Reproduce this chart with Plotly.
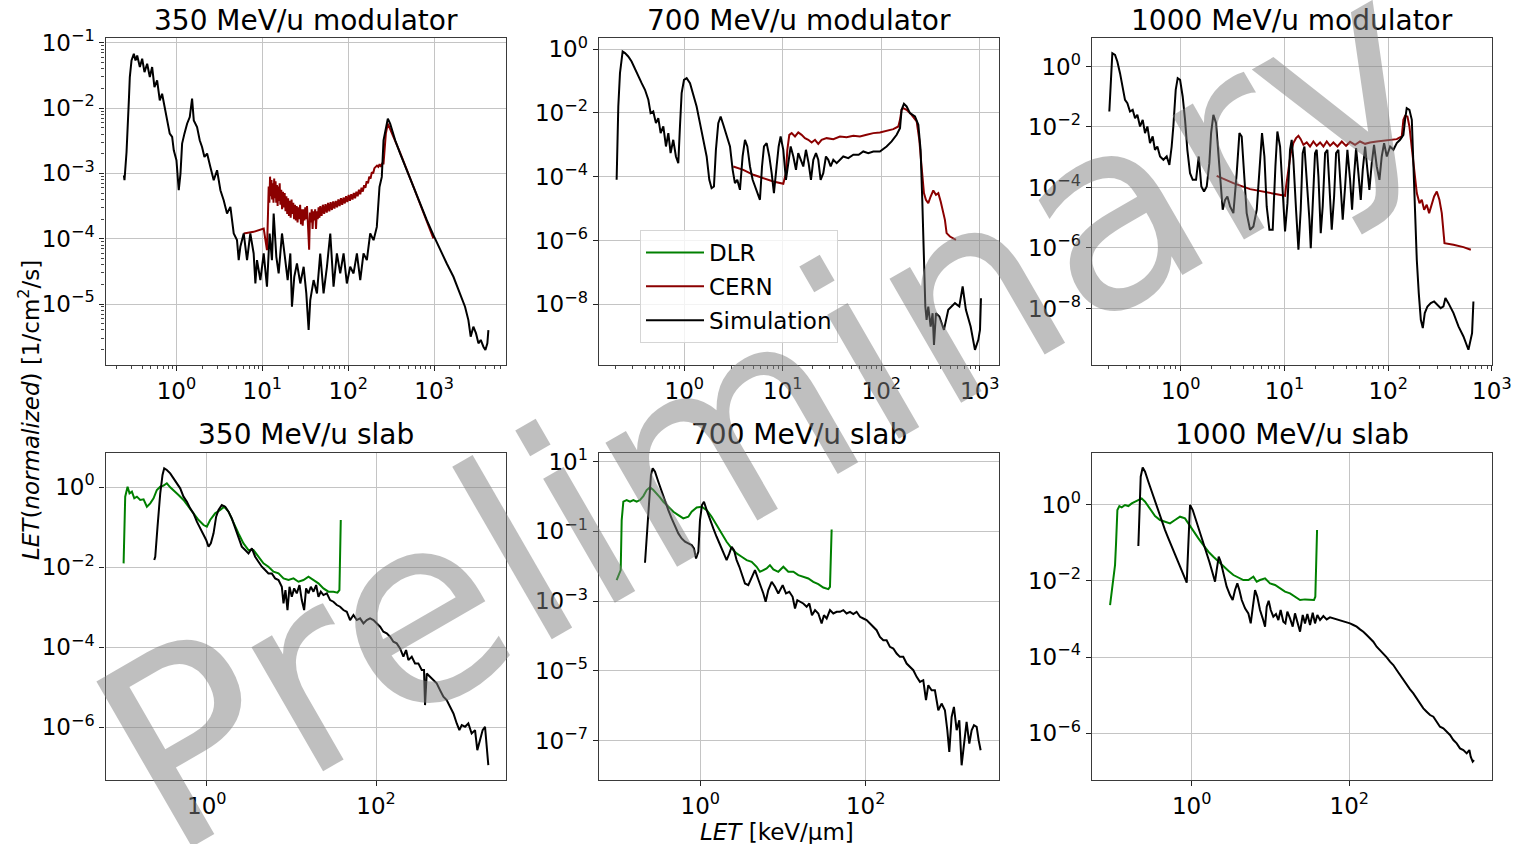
import numpy as np
import plotly.graph_objects as go

W, H = 1517, 844
FONT = "DejaVu Sans"

# ---------------- data: (log10 LET [keV/um], log10 fluence) ----------------
tl_sim = [(-0.612,-3.029),(-0.605,-3.105),(-0.581,-2.672),(-0.574,-2.391),(-0.554,-1.882),(-0.543,-1.525),(-0.523,-1.270),(-0.496,-1.168),(-0.477,-1.270),(-0.457,-1.194),(-0.426,-1.372),(-0.399,-1.245),(-0.372,-1.449),(-0.341,-1.321),(-0.310,-1.525),(-0.283,-1.372),(-0.256,-1.678),(-0.225,-1.576),(-0.194,-1.882),(-0.167,-1.780),(-0.140,-1.984),(-0.109,-2.188),(-0.078,-2.391),(-0.050,-2.442),(-0.031,-2.646),(0.0,-2.799),(0.027,-3.258),(0.047,-3.003),(0.066,-2.544),(0.093,-2.391),(0.124,-2.239),(0.155,-2.137),(0.182,-1.856),(0.202,-2.188),(0.240,-2.290),(0.271,-2.493),(0.298,-2.595),(0.326,-2.748),(0.357,-2.697),(0.395,-2.901),(0.434,-3.105),(0.473,-2.952),(0.512,-3.258),(0.550,-3.411),(0.589,-3.615),(0.628,-3.513),(0.667,-3.920),(0.705,-4.022),(0.725,-4.328),(0.744,-4.124),(0.783,-3.920),(0.822,-4.328),(0.860,-3.920),(0.899,-4.226),(0.919,-4.685),(0.938,-4.328),(0.977,-4.634),(1.016,-4.226),(1.054,-4.736),(1.085,-3.920),(1.112,-4.328),(1.132,-3.615),(1.163,-4.277),(1.190,-4.532),(1.229,-3.920),(1.267,-4.328),(1.295,-4.634),(1.326,-4.226),(1.345,-5.042),(1.372,-4.583),(1.403,-4.379),(1.442,-4.685),(1.481,-4.430),(1.512,-4.838),(1.539,-5.399),(1.558,-4.940),(1.597,-4.634),(1.636,-4.838),(1.674,-4.226),(1.713,-4.838),(1.752,-4.430),(1.791,-3.920),(1.829,-4.736),(1.868,-4.226),(1.907,-4.532),(1.946,-4.226),(1.984,-4.685),(2.023,-4.430),(2.062,-4.532),(2.101,-4.226),(2.140,-4.634),(2.178,-4.226),(2.217,-4.328),(2.256,-3.920),(2.295,-4.022),(2.333,-3.819),(2.364,-3.207),(2.391,-3.054),(2.411,-2.493),(2.442,-2.290),(2.461,-2.162),(2.488,-2.239),(2.547,-2.493),(2.605,-2.697),(2.682,-2.952),(2.760,-3.207),(2.837,-3.462),(2.915,-3.717),(2.992,-3.946),(3.070,-4.175),(3.147,-4.379),(3.225,-4.583),(3.302,-4.838),(3.360,-5.042),(3.399,-5.246),(3.426,-5.501),(3.457,-5.348),(3.488,-5.450),(3.516,-5.602),(3.543,-5.551),(3.574,-5.654),(3.597,-5.704),(3.620,-5.602),(3.632,-5.399)]
tl_cern = [(0.783,-3.920),(0.899,-3.895),(1.016,-3.844),(1.054,-4.175),(1.066,-3.615),(1.074,-3.20),(1.082,-3.45),(1.090,-3.05),(1.098,-3.35),(1.106,-3.10),(1.114,-3.40),(1.122,-3.15),(1.130,-3.45),(1.138,-3.08),(1.146,-3.38),(1.154,-3.12),(1.162,-3.45),(1.170,-3.18),(1.178,-3.50),(1.186,-3.20),(1.194,-3.42),(1.202,-3.15),(1.210,-3.48),(1.220,-3.25),(1.230,-3.55),(1.240,-3.28),(1.250,-3.52),(1.260,-3.30),(1.270,-3.58),(1.280,-3.35),(1.290,-3.62),(1.300,-3.38),(1.310,-3.65),(1.320,-3.42),(1.330,-3.68),(1.340,-3.40),(1.350,-3.62),(1.360,-3.45),(1.370,-3.70),(1.380,-3.48),(1.390,-3.72),(1.400,-3.50),(1.410,-3.75),(1.420,-3.52),(1.430,-3.70),(1.440,-3.48),(1.450,-3.78),(1.460,-3.55),(1.470,-3.80),(1.480,-3.55),(1.490,-3.72),(1.500,-3.52),(1.510,-3.70),(1.520,-3.50),(1.530,-3.75),(1.545,-4.17),(1.555,-3.60),(1.565,-3.75),(1.575,-3.55),(1.585,-3.85),(1.595,-3.58),(1.605,-3.72),(1.615,-3.55),(1.625,-3.85),(1.635,-3.58),(1.645,-3.70),(1.655,-3.52),(1.665,-3.68),(1.675,-3.50),(1.690,-3.65),(1.705,-3.48),(1.720,-3.62),(1.735,-3.47),(1.750,-3.60),(1.765,-3.45),(1.780,-3.58),(1.795,-3.44),(1.810,-3.56),(1.825,-3.43),(1.840,-3.54),(1.855,-3.42),(1.870,-3.52),(1.885,-3.40),(1.900,-3.50),(1.915,-3.38),(1.930,-3.48),(1.945,-3.37),(1.960,-3.46),(1.975,-3.35),(1.990,-3.44),(2.005,-3.33),(2.020,-3.42),(2.035,-3.32),(2.050,-3.40),(2.065,-3.30),(2.080,-3.38),(2.095,-3.28),(2.110,-3.35),(2.125,-3.25),(2.140,-3.32),(2.155,-3.22),(2.170,-3.28),(2.185,-3.18),(2.200,-3.22),(2.215,-3.12),(2.230,-3.15),(2.245,-3.05),(2.260,-3.08),(2.275,-2.98),(2.290,-3.00),(2.305,-2.92),(2.320,-2.90),(2.335,-2.88),(2.350,-2.90),(2.365,-2.86),(2.380,-2.90),(2.395,-2.85),(2.411,-2.850),(2.438,-2.391),(2.461,-2.239),(2.527,-2.442),(2.605,-2.687),(2.760,-3.207),(2.915,-3.727),(2.992,-3.997)]

tm_sim = [(-0.687,-4.096),(-0.670,-1.797),(-0.653,-0.752),(-0.626,-0.073),(-0.602,-0.125),(-0.569,-0.230),(-0.535,-0.387),(-0.501,-0.596),(-0.467,-0.805),(-0.433,-1.066),(-0.399,-1.275),(-0.365,-1.588),(-0.342,-2.006),(-0.315,-1.954),(-0.288,-2.320),(-0.264,-2.163),(-0.240,-2.633),(-0.213,-2.424),(-0.186,-3.051),(-0.162,-2.633),(-0.139,-3.260),(-0.112,-2.842),(-0.085,-3.365),(-0.061,-3.574),(-0.044,-2.424),(-0.027,-1.379),(-0.003,-0.961),(0.024,-0.909),(0.058,-1.066),(0.091,-1.432),(0.125,-1.797),(0.159,-2.320),(0.193,-2.842),(0.227,-3.365),(0.254,-4.096),(0.277,-4.357),(0.301,-4.305),(0.321,-3.156),(0.345,-2.320),(0.369,-2.111),(0.396,-2.372),(0.430,-2.738),(0.464,-3.051),(0.491,-3.783),(0.514,-4.201),(0.538,-4.096),(0.565,-4.410),(0.592,-3.365),(0.616,-2.842),(0.640,-3.051),(0.667,-3.678),(0.694,-4.096),(0.717,-4.305),(0.741,-4.514),(0.768,-4.723),(0.789,-3.678),(0.809,-3.051),(0.836,-2.947),(0.863,-3.365),(0.887,-3.887),(0.910,-4.514),(0.937,-3.678),(0.958,-3.051),(0.978,-2.738),(1.005,-3.156),(1.032,-4.096),(1.056,-3.574),(1.080,-3.051),(1.107,-3.365),(1.134,-3.783),(1.157,-3.260),(1.181,-3.469),(1.208,-3.678),(1.235,-3.156),(1.262,-3.574),(1.286,-4.096),(1.310,-3.469),(1.337,-3.260),(1.360,-3.469),(1.384,-4.096),(1.411,-3.887),(1.438,-3.365),(1.462,-3.469),(1.486,-3.678),(1.513,-3.469),(1.547,-3.574),(1.580,-3.469),(1.614,-3.365),(1.665,-3.417),(1.716,-3.312),(1.770,-3.312),(1.817,-3.208),(1.868,-3.260),(1.919,-3.208),(1.986,-3.208),(2.054,-3.051),(2.105,-2.894),(2.156,-2.686),(2.190,-2.476),(2.206,-1.902),(2.230,-1.714),(2.257,-1.797),(2.291,-2.006),(2.342,-2.111),(2.376,-2.372),(2.399,-3.156),(2.416,-4.723),(2.433,-6.604),(2.447,-8.067),(2.460,-8.485),(2.477,-8.067),(2.501,-8.694),(2.521,-8.276),(2.535,-9.269),(2.555,-8.276),(2.589,-8.380),(2.636,-8.798),(2.680,-8.171),(2.748,-7.962),(2.792,-8.067),(2.826,-7.440),(2.859,-8.171),(2.907,-8.694),(2.951,-9.425),(2.985,-9.112),(3.002,-8.798),(3.012,-7.806)]
tm_cern = [(0.497,-3.678),(0.599,-3.783),(0.701,-3.939),(0.802,-4.044),(0.904,-4.148),(1.005,-4.222),(1.032,-3.887),(1.046,-3.156),(1.066,-2.686),(1.090,-2.633),(1.124,-2.738),(1.157,-2.612),(1.191,-2.686),(1.225,-2.790),(1.259,-2.842),(1.293,-2.926),(1.327,-2.842),(1.360,-2.968),(1.394,-2.842),(1.445,-2.790),(1.513,-2.821),(1.580,-2.738),(1.648,-2.759),(1.716,-2.717),(1.783,-2.738),(1.851,-2.686),(1.919,-2.633),(1.986,-2.612),(2.054,-2.560),(2.122,-2.508),(2.173,-2.424),(2.190,-2.215),(2.206,-1.902),(2.223,-1.850),(2.257,-1.902),(2.308,-2.058),(2.359,-2.267),(2.386,-2.842),(2.409,-3.678),(2.433,-4.514),(2.453,-4.723),(2.477,-4.828),(2.501,-4.619),(2.528,-4.430),(2.555,-4.566),(2.579,-4.514),(2.603,-4.775),(2.623,-5.036),(2.646,-5.350),(2.663,-5.768),(2.697,-5.873),(2.758,-5.977)]

tr_sim = [(-0.688,-1.488),(-0.675,-0.551),(-0.659,0.441),(-0.633,0.386),(-0.611,0.165),(-0.585,-0.220),(-0.559,-0.661),(-0.537,-1.102),(-0.514,-1.212),(-0.489,-1.488),(-0.463,-1.433),(-0.440,-1.708),(-0.418,-1.598),(-0.392,-1.983),(-0.366,-1.763),(-0.344,-2.204),(-0.321,-1.983),(-0.296,-2.534),(-0.270,-2.314),(-0.248,-2.755),(-0.225,-2.645),(-0.199,-2.975),(-0.167,-3.085),(-0.135,-2.975),(-0.109,-3.251),(-0.087,-2.645),(-0.071,-1.983),(-0.048,-0.771),(-0.029,-0.386),(-0.006,-0.441),(0.019,-0.992),(0.042,-1.763),(0.064,-2.755),(0.090,-3.526),(0.116,-3.747),(0.148,-3.747),(0.174,-2.975),(0.199,-3.967),(0.225,-4.132),(0.251,-3.967),(0.276,-3.196),(0.293,-2.204),(0.315,-1.598),(0.341,-1.873),(0.363,-2.865),(0.386,-3.967),(0.405,-4.738),(0.428,-4.408),(0.450,-4.298),(0.476,-4.628),(0.508,-4.848),(0.540,-3.526),(0.566,-2.204),(0.588,-2.314),(0.611,-3.526),(0.636,-4.848),(0.669,-5.399),(0.701,-5.289),(0.733,-4.738),(0.765,-3.085),(0.784,-2.204),(0.807,-2.975),(0.829,-4.628),(0.855,-5.399),(0.887,-5.399),(0.913,-3.304),(0.932,-2.149),(0.958,-2.645),(0.984,-4.187),(1.006,-5.455),(1.029,-4.518),(1.054,-2.755),(1.070,-2.424),(1.086,-3.085),(1.112,-4.738),(1.135,-6.061),(1.157,-4.738),(1.176,-2.865),(1.193,-2.645),(1.215,-3.636),(1.241,-5.069),(1.254,-6.006),(1.273,-4.628),(1.295,-2.865),(1.311,-2.755),(1.328,-3.636),(1.350,-5.510),(1.369,-4.628),(1.392,-2.865),(1.414,-2.755),(1.434,-3.967),(1.456,-5.399),(1.479,-4.298),(1.498,-2.865),(1.520,-2.755),(1.543,-3.967),(1.562,-5.069),(1.585,-3.967),(1.607,-2.755),(1.633,-3.747),(1.652,-4.738),(1.671,-3.636),(1.691,-2.700),(1.713,-3.526),(1.736,-4.408),(1.755,-3.416),(1.778,-2.645),(1.800,-3.416),(1.819,-4.077),(1.842,-3.196),(1.864,-2.590),(1.890,-3.306),(1.916,-3.747),(1.938,-2.975),(1.961,-2.534),(1.987,-2.975),(2.019,-2.645),(2.051,-2.755),(2.083,-2.534),(2.115,-2.424),(2.147,-2.259),(2.163,-1.763),(2.179,-1.377),(2.205,-1.433),(2.228,-1.763),(2.244,-3.306),(2.260,-4.959),(2.276,-6.391),(2.295,-7.493),(2.315,-8.375),(2.334,-8.650),(2.353,-8.154),(2.379,-7.934),(2.411,-7.824),(2.443,-7.769),(2.475,-7.879),(2.507,-7.989),(2.533,-7.934),(2.552,-7.658),(2.581,-7.824),(2.630,-8.154),(2.678,-8.595),(2.726,-8.926),(2.774,-9.366),(2.790,-9.091),(2.809,-8.815),(2.822,-7.769)]
tr_cern = [(0.347,-3.614),(0.508,-3.857),(0.669,-4.055),(0.829,-4.165),(0.958,-4.242),(1.006,-4.275),(1.016,-3.967),(1.038,-3.416),(1.061,-2.865),(1.086,-2.534),(1.112,-2.369),(1.135,-2.292),(1.157,-2.402),(1.183,-2.590),(1.215,-2.512),(1.247,-2.645),(1.279,-2.479),(1.311,-2.623),(1.344,-2.512),(1.376,-2.645),(1.408,-2.479),(1.440,-2.623),(1.472,-2.512),(1.511,-2.645),(1.553,-2.479),(1.594,-2.623),(1.633,-2.490),(1.681,-2.590),(1.729,-2.479),(1.778,-2.557),(1.826,-2.512),(1.890,-2.479),(1.954,-2.446),(2.019,-2.424),(2.083,-2.402),(2.131,-2.314),(2.147,-1.763),(2.163,-1.631),(2.186,-1.653),(2.205,-1.983),(2.228,-2.755),(2.250,-3.526),(2.276,-4.187),(2.302,-4.518),(2.324,-4.408),(2.347,-4.738),(2.372,-4.573),(2.395,-4.848),(2.421,-4.518),(2.443,-4.298),(2.469,-4.132),(2.494,-4.408),(2.517,-4.848),(2.533,-5.510),(2.543,-5.840),(2.630,-5.895),(2.726,-5.972),(2.797,-6.061)]

bl_dlr = [(-0.984,-1.906),(-0.965,-0.241),(-0.937,0.008),(-0.914,-0.158),(-0.886,-0.117),(-0.858,-0.283),(-0.827,-0.241),(-0.788,-0.325),(-0.748,-0.308),(-0.709,-0.491),(-0.669,-0.408),(-0.630,-0.283),(-0.591,-0.075),(-0.551,0.008),(-0.512,0.033),(-0.473,0.092),(-0.433,-0.008),(-0.394,-0.075),(-0.335,-0.200),(-0.276,-0.325),(-0.217,-0.491),(-0.158,-0.658),(-0.098,-0.824),(-0.039,-0.949),(0.0,-0.990),(0.039,-0.824),(0.098,-0.658),(0.158,-0.574),(0.205,-0.491),(0.256,-0.616),(0.315,-0.907),(0.374,-1.157),(0.433,-1.407),(0.492,-1.573),(0.551,-1.573),(0.610,-1.740),(0.669,-1.906),(0.728,-1.989),(0.788,-2.114),(0.847,-2.156),(0.906,-2.281),(0.965,-2.322),(1.024,-2.281),(1.083,-2.364),(1.142,-2.322),(1.201,-2.239),(1.260,-2.322),(1.319,-2.405),(1.378,-2.530),(1.437,-2.613),(1.496,-2.613),(1.544,-2.638),(1.567,-2.572),(1.575,-1.573),(1.583,-0.824)]
bl_sim = [(-0.622,-1.823),(-0.610,-1.740),(-0.583,-0.990),(-0.551,-0.158),(-0.524,0.300),(-0.504,0.466),(-0.473,0.424),(-0.433,0.341),(-0.394,0.216),(-0.354,0.092),(-0.315,-0.033),(-0.276,-0.241),(-0.236,-0.366),(-0.197,-0.533),(-0.158,-0.658),(-0.118,-0.866),(-0.079,-1.032),(-0.039,-1.199),(-0.008,-1.323),(0.020,-1.490),(0.047,-1.407),(0.079,-1.157),(0.110,-0.741),(0.138,-0.574),(0.177,-0.449),(0.217,-0.491),(0.256,-0.616),(0.295,-0.782),(0.335,-1.032),(0.374,-1.282),(0.413,-1.490),(0.453,-1.573),(0.492,-1.656),(0.532,-1.531),(0.571,-1.740),(0.610,-1.864),(0.650,-1.989),(0.689,-2.072),(0.728,-2.156),(0.768,-2.156),(0.807,-2.281),(0.847,-2.322),(0.886,-2.489),(0.906,-2.905),(0.929,-2.572),(0.953,-3.071),(0.977,-2.489),(1.004,-2.738),(1.032,-2.530),(1.063,-2.655),(1.095,-2.447),(1.122,-2.822),(1.150,-3.071),(1.173,-2.530),(1.201,-2.655),(1.229,-2.489),(1.260,-2.613),(1.292,-2.447),(1.319,-2.738),(1.347,-2.613),(1.378,-2.697),(1.418,-2.655),(1.457,-2.822),(1.496,-2.863),(1.536,-2.946),(1.575,-2.988),(1.614,-3.071),(1.654,-3.113),(1.693,-3.321),(1.733,-3.196),(1.772,-3.321),(1.811,-3.279),(1.851,-3.404),(1.890,-3.321),(1.929,-3.279),(1.969,-3.321),(2.008,-3.404),(2.048,-3.487),(2.087,-3.612),(2.126,-3.654),(2.166,-3.737),(2.205,-3.862),(2.244,-3.903),(2.284,-4.028),(2.323,-4.236),(2.355,-4.070),(2.382,-4.320),(2.422,-4.236),(2.461,-4.403),(2.500,-4.403),(2.540,-4.569),(2.567,-4.569),(2.579,-5.443),(2.599,-4.653),(2.638,-4.736),(2.678,-4.819),(2.717,-4.902),(2.756,-5.069),(2.796,-5.235),(2.835,-5.319),(2.875,-5.485),(2.915,-5.651),(2.954,-5.901),(2.985,-6.067),(3.013,-5.943),(3.052,-5.984),(3.091,-5.901),(3.130,-6.151),(3.170,-6.067),(3.197,-6.567),(3.229,-6.317),(3.260,-6.067),(3.288,-5.984),(3.308,-6.484),(3.327,-6.941)]

bm_dlr = [(-1.012,-2.397),(-0.983,-2.206),(-0.963,-2.110),(-0.951,-0.675),(-0.931,-0.148),(-0.891,-0.100),(-0.850,-0.148),(-0.810,-0.100),(-0.770,-0.148),(-0.730,-0.100),(-0.689,0.014),(-0.649,0.187),(-0.609,0.263),(-0.568,0.187),(-0.528,0.091),(-0.488,-0.024),(-0.447,-0.148),(-0.407,-0.244),(-0.367,-0.340),(-0.326,-0.435),(-0.266,-0.531),(-0.206,-0.627),(-0.145,-0.579),(-0.105,-0.435),(-0.044,-0.311),(0.016,-0.292),(0.077,-0.388),(0.137,-0.579),(0.197,-0.818),(0.258,-1.057),(0.318,-1.297),(0.379,-1.488),(0.439,-1.632),(0.500,-1.727),(0.560,-1.823),(0.621,-1.871),(0.681,-2.014),(0.721,-2.158),(0.762,-2.110),(0.802,-2.062),(0.842,-1.967),(0.883,-2.091),(0.943,-2.158),(1.004,-2.014),(1.064,-2.158),(1.125,-2.158),(1.185,-2.254),(1.245,-2.301),(1.306,-2.349),(1.366,-2.445),(1.427,-2.512),(1.487,-2.608),(1.548,-2.656),(1.568,-2.589),(1.576,-1.727),(1.588,-0.943)]
bm_sim = [(-0.669,-1.900),(-0.649,-1.153),(-0.621,-0.100),(-0.597,0.617),(-0.576,0.809),(-0.548,0.713),(-0.508,0.426),(-0.468,0.139),(-0.427,-0.148),(-0.387,-0.388),(-0.347,-0.627),(-0.306,-0.866),(-0.266,-1.057),(-0.226,-1.201),(-0.185,-1.297),(-0.145,-1.344),(-0.105,-1.392),(-0.077,-1.488),(-0.052,-1.775),(-0.024,-1.584),(-0.004,-0.675),(0.020,-0.244),(0.044,-0.148),(0.077,-0.388),(0.117,-0.675),(0.157,-0.914),(0.197,-1.153),(0.238,-1.392),(0.278,-1.632),(0.318,-1.823),(0.351,-1.632),(0.379,-1.440),(0.407,-1.536),(0.439,-1.823),(0.472,-2.014),(0.500,-2.206),(0.540,-2.493),(0.580,-2.541),(0.621,-2.301),(0.661,-2.110),(0.689,-2.301),(0.721,-2.493),(0.762,-2.780),(0.790,-3.019),(0.822,-2.684),(0.863,-2.445),(0.903,-2.589),(0.943,-2.780),(0.996,-2.541),(1.036,-2.780),(1.076,-2.732),(1.116,-2.876),(1.145,-3.211),(1.173,-2.971),(1.205,-3.019),(1.245,-3.067),(1.286,-3.163),(1.318,-3.067),(1.350,-3.402),(1.387,-3.258),(1.427,-3.354),(1.467,-3.641),(1.495,-3.402),(1.528,-3.498),(1.568,-3.258),(1.608,-3.354),(1.649,-3.306),(1.689,-3.306),(1.729,-3.258),(1.769,-3.354),(1.810,-3.306),(1.850,-3.373),(1.890,-3.306),(1.931,-3.450),(1.971,-3.498),(2.011,-3.545),(2.052,-3.641),(2.092,-3.737),(2.132,-3.833),(2.172,-4.024),(2.213,-4.120),(2.253,-4.120),(2.293,-4.311),(2.334,-4.359),(2.374,-4.502),(2.414,-4.598),(2.454,-4.598),(2.495,-4.790),(2.535,-4.885),(2.576,-4.981),(2.616,-5.172),(2.656,-5.316),(2.696,-5.268),(2.729,-5.842),(2.757,-5.411),(2.797,-5.555),(2.837,-5.555),(2.878,-6.129),(2.918,-5.938),(2.958,-6.129),(2.987,-6.703),(3.011,-7.325),(3.039,-6.321),(3.067,-6.033),(3.100,-6.703),(3.132,-6.416),(3.160,-7.708),(3.192,-7.086),(3.220,-6.464),(3.253,-7.086),(3.281,-6.703),(3.309,-6.560),(3.342,-6.608),(3.366,-6.990),(3.390,-7.278)]

br_dlr = [(-1.036,-2.633),(-1.015,-2.240),(-0.994,-1.977),(-0.973,-1.584),(-0.960,-1.015),(-0.943,-0.140),(-0.918,-0.035),(-0.888,-0.070),(-0.846,-0.009),(-0.804,-0.035),(-0.761,0.035),(-0.719,0.079),(-0.677,0.140),(-0.635,0.166),(-0.592,0.079),(-0.550,-0.052),(-0.508,-0.184),(-0.465,-0.297),(-0.402,-0.402),(-0.338,-0.446),(-0.275,-0.490),(-0.212,-0.402),(-0.148,-0.315),(-0.085,-0.359),(-0.030,-0.534),(0.021,-0.709),(0.085,-0.884),(0.148,-1.059),(0.212,-1.234),(0.275,-1.365),(0.338,-1.496),(0.402,-1.627),(0.465,-1.732),(0.529,-1.846),(0.592,-1.916),(0.656,-1.977),(0.719,-1.977),(0.783,-1.890),(0.825,-2.021),(0.867,-1.977),(0.931,-1.934),(0.994,-2.065),(1.058,-2.108),(1.121,-2.196),(1.184,-2.283),(1.248,-2.327),(1.311,-2.415),(1.375,-2.502),(1.438,-2.485),(1.502,-2.485),(1.552,-2.502),(1.569,-2.415),(1.578,-1.540),(1.591,-0.665)]
br_sim = [(-0.677,-1.085),(-0.664,-0.140),(-0.647,0.735),(-0.622,0.980),(-0.592,0.866),(-0.550,0.604),(-0.508,0.341),(-0.465,0.079),(-0.423,-0.184),(-0.381,-0.446),(-0.338,-0.665),(-0.296,-0.884),(-0.254,-1.102),(-0.212,-1.321),(-0.169,-1.540),(-0.127,-1.715),(-0.085,-1.934),(-0.063,-2.047),(-0.042,-1.015),(-0.021,-0.009),(0.013,-0.140),(0.055,-0.402),(0.097,-0.709),(0.140,-0.971),(0.182,-1.234),(0.224,-1.496),(0.266,-1.802),(0.296,-2.021),(0.317,-1.715),(0.343,-1.365),(0.368,-1.496),(0.402,-1.802),(0.444,-2.152),(0.486,-2.371),(0.520,-2.502),(0.550,-2.240),(0.579,-2.065),(0.605,-2.240),(0.635,-2.502),(0.677,-2.721),(0.719,-2.852),(0.749,-3.115),(0.774,-2.721),(0.804,-2.240),(0.833,-2.415),(0.867,-2.765),(0.901,-2.983),(0.931,-3.202),(0.952,-2.677),(0.977,-2.520),(1.003,-2.765),(1.036,-2.940),(1.070,-2.870),(1.100,-3.027),(1.129,-2.765),(1.163,-3.071),(1.189,-3.115),(1.214,-2.808),(1.248,-2.983),(1.282,-3.202),(1.311,-2.852),(1.345,-3.115),(1.375,-3.333),(1.409,-2.896),(1.438,-3.115),(1.468,-2.870),(1.502,-3.158),(1.536,-2.835),(1.565,-3.115),(1.595,-2.896),(1.629,-3.027),(1.671,-2.922),(1.713,-3.010),(1.755,-2.957),(1.798,-2.983),(1.840,-3.010),(1.882,-3.027),(1.925,-3.071),(1.967,-3.097),(2.009,-3.115),(2.052,-3.158),(2.094,-3.202),(2.136,-3.272),(2.178,-3.333),(2.221,-3.421),(2.263,-3.508),(2.305,-3.596),(2.347,-3.727),(2.390,-3.815),(2.432,-3.902),(2.475,-4.007),(2.517,-4.121),(2.559,-4.208),(2.601,-4.339),(2.644,-4.471),(2.686,-4.602),(2.728,-4.733),(2.771,-4.847),(2.813,-4.952),(2.855,-5.083),(2.898,-5.214),(2.940,-5.346),(2.982,-5.433),(3.025,-5.521),(3.067,-5.564),(3.109,-5.696),(3.151,-5.827),(3.194,-5.871),(3.236,-5.958),(3.278,-6.045),(3.321,-6.177),(3.363,-6.264),(3.405,-6.396),(3.448,-6.439),(3.490,-6.527),(3.524,-6.439),(3.541,-6.614),(3.566,-6.745),(3.583,-6.702)]

titles = ["350 MeV/u modulator", "700 MeV/u modulator", "1000 MeV/u modulator",
          "350 MeV/u slab", "700 MeV/u slab", "1000 MeV/u slab"]
x_tick_exp = [[0, 1, 2, 3], [0, 1, 2, 3], [0, 1, 2, 3], [0, 2], [0, 2], [0, 2]]
y_tick_exp = [[-1, -2, -3, -4, -5], [0, -2, -4, -6, -8], [0, -2, -4, -6, -8],
              [0, -2, -4, -6], [1, -1, -3, -5, -7], [0, -2, -4, -6]]
series = [
    [("CERN", tl_cern), ("Simulation", tl_sim)],
    [("CERN", tm_cern), ("Simulation", tm_sim)],
    [("CERN", tr_cern), ("Simulation", tr_sim)],
    [("DLR", bl_dlr), ("Simulation", bl_sim)],
    [("DLR", bm_dlr), ("Simulation", bm_sim)],
    [("DLR", br_dlr), ("Simulation", br_sim)],
]
colors = {"DLR": "#008000", "CERN": "#8b0000", "Simulation": "#000000"}
rank = {"DLR": 1, "CERN": 2, "Simulation": 3}

# ---------------- layout geometry (pixels) ----------------
col_px = [(105.5, 506.0), (598.7, 999.0), (1091.7, 1492.3)]
row_px = [(37.5, 365.0), (452.7, 780.3)]
x_ranges = [[-0.826, 3.837], [-0.869, 3.195], [-0.858, 3.004],
            [-1.198, 3.536], [-1.229, 3.612], [-1.269, 3.815]]
y_ranges = [[-5.934, -0.919], [-9.9, 0.364], [-9.87, 0.959],
            [-7.32, 0.856], [-8.139, 1.258], [-7.234, 1.365]]


def sup(e):
    return "10<sup>" + ("\u2212" if e < 0 else "") + str(abs(e)) + "</sup>"


minor_x = [m * 10.0 ** e for e in range(-2, 5) for m in range(2, 10)]
minor_y_tl = [m * 10.0 ** e for e in range(-7, 0) for m in range(2, 10)]

fig = go.Figure()
shown = set()
layout = dict(
    width=W, height=H, margin=dict(l=0, r=0, t=0, b=0, pad=0, autoexpand=False),
    paper_bgcolor="white", plot_bgcolor="white",
    font=dict(family=FONT, size=23, color="black"),
    showlegend=True,
)
annotations = []

for i in range(6):
    r, c = divmod(i, 3)
    ax = "" if i == 0 else str(i + 1)
    for name, pts in series[i]:
        lx = np.array([p[0] for p in pts])
        ly = np.array([p[1] for p in pts])
        show = name not in shown
        shown.add(name)
        fig.add_trace(go.Scatter(
            x=10 ** lx, y=10 ** ly, mode="lines", name=name,
            line=dict(color=colors[name], width=2),
            xaxis="x" + ax, yaxis="y" + ax, showlegend=show,
            legendrank=rank[name], legendgroup=name,
        ))
    x0, x1 = col_px[c]
    y0, y1 = row_px[r]
    axis_common = dict(
        type="log", showline=True, mirror=True, linecolor="#3a3a3a", linewidth=1.3,
        showgrid=True, gridcolor="#c4c4c4", gridwidth=1, zeroline=False,
        ticks="outside", ticklen=5, tickwidth=1, tickcolor="#222", automargin=False,
        tickfont=dict(family=FONT, size=23, color="black"), tickmode="array",
    )
    xa = dict(axis_common, domain=[x0 / W, x1 / W], range=x_ranges[i],
              anchor="y" + ax, tickvals=[10.0 ** e for e in x_tick_exp[i]],
              ticktext=[sup(e) for e in x_tick_exp[i]])
    ya = dict(axis_common, domain=[1 - y1 / H, 1 - y0 / H], range=y_ranges[i],
              anchor="x" + ax, tickvals=[10.0 ** e for e in y_tick_exp[i]],
              ticktext=[sup(e) for e in y_tick_exp[i]])
    if r == 0:
        xa["minor"] = dict(tickmode="array", tickvals=minor_x, ticks="outside",
                           ticklen=3, tickcolor="#444", showgrid=False)
    if i == 0:
        ya["minor"] = dict(tickmode="array", tickvals=minor_y_tl, ticks="outside",
                           ticklen=3, tickcolor="#444", showgrid=False)
    layout["xaxis" + ax] = xa
    layout["yaxis" + ax] = ya
    title_y = 20 if r == 0 else 435
    annotations.append(dict(
        text=titles[i], x=(x0 + x1) / 2 / W, y=1 - title_y / H, xref="paper", yref="paper",
        xanchor="center", yanchor="middle", showarrow=False,
        font=dict(family=FONT, size=28, color="black")))

annotations.append(dict(
    text="<i>LET</i>(<i>normalized</i>) [1/cm<sup>2</sup>/s]", x=29 / W, y=1 - 410 / H,
    xref="paper", yref="paper", textangle=-90, showarrow=False,
    xanchor="center", yanchor="middle", font=dict(family=FONT, size=23, color="black")))
annotations.append(dict(
    text="<i>LET</i> [keV/\u03bcm]", x=777 / W, y=1 - 832 / H,
    xref="paper", yref="paper", showarrow=False,
    xanchor="center", yanchor="middle", font=dict(family=FONT, size=23, color="black")))
annotations.append(dict(
    text="Preliminary", x=765 / W, y=1 - 411 / H, xref="paper", yref="paper",
    textangle=-30, showarrow=False, xanchor="center", yanchor="middle",
    font=dict(family=FONT, size=262, color="rgba(128,128,128,0.5)")))

layout["annotations"] = annotations
layout["legend"] = dict(
    x=640 / W, y=1 - 230 / H, xanchor="left", yanchor="top",
    bgcolor="rgba(255,255,255,0.8)", bordercolor="#d5d5d5", borderwidth=1,
    font=dict(family=FONT, size=23, color="black"),
    traceorder="grouped", tracegroupgap=1, itemwidth=58,
)
fig.update_layout(**layout)
fig.write_html("out.html")
